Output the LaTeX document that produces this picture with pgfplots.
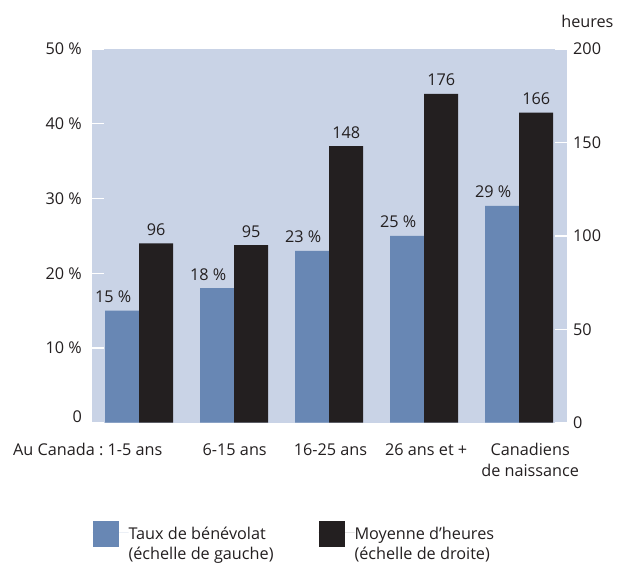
\documentclass[border=0pt]{standalone}
\usepackage{fontspec}
\setmainfont{Open Sans}
\usepackage{pgfplots}
\pgfplotsset{compat=1.18}
\definecolor{bg}{RGB}{201,211,230}
\definecolor{bblue}{RGB}{104,135,180}
\definecolor{bblack}{RGB}{35,31,32}
\definecolor{txt}{RGB}{35,31,32}
\frenchspacing

\begin{document}
\begin{tikzpicture}[font=\fontsize{16.3}{20}\selectfont, text=txt]
\path[use as bounding box] (-91.7bp,-146.3bp) rectangle (527.3bp,422.7bp);
\pgfplotsset{
  base/.style={
    scale only axis, width=475bp, height=373.7bp,
    at={(0,0)}, anchor=south west,
    xmin=-0.5, xmax=4.5, ymin=0,
    axis line style={draw=none},
    ybar, bar width=34bp,
    tick style={white, line width=1.4bp},
    major tick length=12bp,
    tick align=inside,
    xtick=\empty,
    clip=false,
    /pgf/number format/assume math mode=true,
    every node near coord/.append style={text=txt, inner sep=0pt, anchor=base, yshift=8bp},
  }
}
% left scale: volunteer rate
\begin{axis}[base,
  axis background/.style={fill=bg},
  ymax=50, ytick={0,10,...,50}, ytick pos=left,
  yticklabels={\raisebox{12bp}{0},10 \%,20 \%,30 \%,40 \%,50 \%},
  yticklabel style={inner sep=0pt, xshift=-9.7bp},
  bar shift=-17bp,
  nodes near coords={\pgfmathprintnumber{\pgfplotspointmeta}~\%},
  every node near coord/.append style={xshift=-9bp},
]
\addplot[fill=bblue, draw=none] coordinates {(0,15) (1,18) (2,23) (3,25) (4,29)};
\node[anchor=base east, xshift=26.7bp, yshift=-32.3bp] at (axis cs:0,0) {Au Canada : 1-5 ans};
\node[anchor=base, xshift=0.5bp, yshift=-32.3bp] at (axis cs:1,0) {6-15 ans};
\node[anchor=base, xshift=1.3bp, yshift=-32.3bp] at (axis cs:2,0) {16-25 ans};
\node[anchor=base, xshift=2bp, yshift=-32.3bp] at (axis cs:3,0) {26 ans et +};
\node[anchor=base, xshift=11bp, yshift=-32.3bp] at (axis cs:4,0)
  {\begin{tabular}[t]{@{}c@{}}Canadiens\\[2bp]de naissance\end{tabular}};
\end{axis}
% right scale: average hours
\begin{axis}[base,
  ymax=200, ytick={0,50,...,200}, ytick pos=right,
  yticklabel style={inner sep=0pt, xshift=6.3bp},
  bar shift=17bp,
  nodes near coords={\pgfmathprintnumber{\pgfplotspointmeta}},
  legend columns=2,
  legend style={at={(axis description cs:0.0013,-0.2636)}, anchor=north west,
    draw=none, fill=none, inner sep=0pt, column sep=0pt, nodes={inner sep=0pt}},
  legend cell align=left,
  legend image code/.code={\fill[#1] (0bp,-14bp) rectangle (26bp,11.5bp); \path (0,0) -- (36bp,0);},
]
\addlegendimage{fill=bblue, draw=none}
\addlegendentry{\begin{tabular}[t]{@{}p{190bp}@{}}Taux de bénévolat\\(échelle de gauche)\end{tabular}}
\addlegendimage{fill=bblack, draw=none}
\addlegendentry{\begin{tabular}[t]{@{}l@{}}Moyenne d’heures\\(échelle de droite)\end{tabular}}
\addplot[fill=bblack, draw=none, forget plot] coordinates {(0,96) (1,95) (2,148) (3,176) (4,166)};
\end{axis}
\node[anchor=east] at (525.3bp,401.7bp) {heures};
\end{tikzpicture}
\end{document}
